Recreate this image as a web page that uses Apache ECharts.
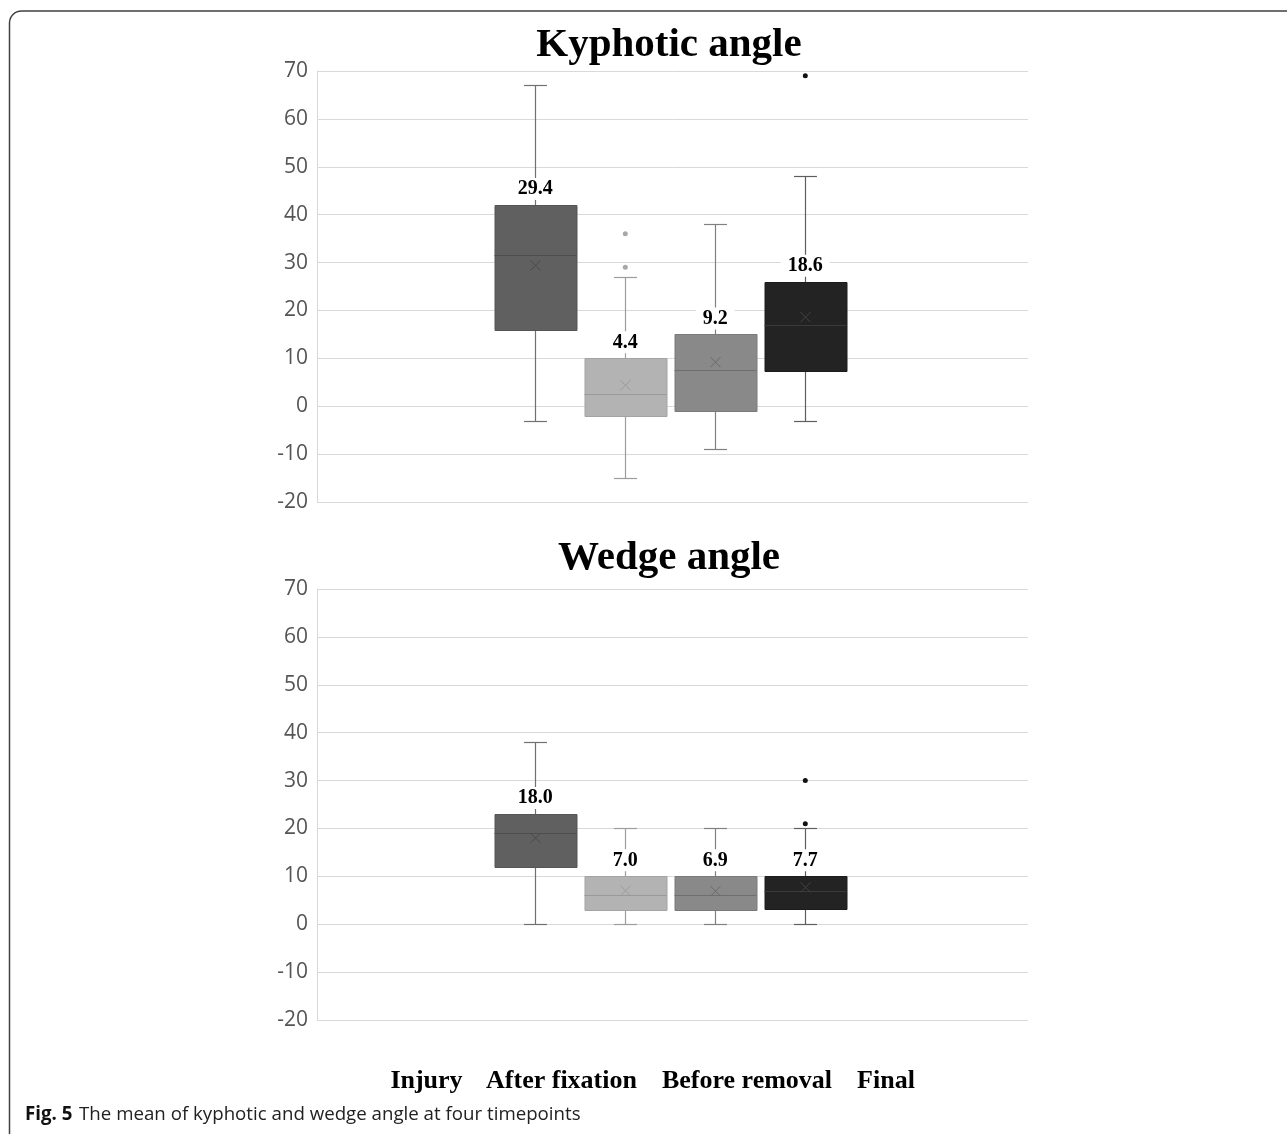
<!DOCTYPE html>
<html>
<head>
<meta charset="utf-8">
<script src="https://cdn.jsdelivr.net/npm/echarts@6/dist/echarts.min.js"></script>
<style>
html,body{margin:0;padding:0;background:#fff;}
#chart{width:1287px;height:1134px;}
</style>
</head>
<body>
<div id="chart"></div>
<script>
// ---------- data ----------
const categories = ['Injury', 'After fixation', 'Before removal', 'Final'];
const yTicks = [-20, -10, 0, 10, 20, 30, 40, 50, 60, 70];

// Kyphotic angle: [min, Q1, median, Q3, max]
const kyphoticMin    = [-3, -15, -9, -3];
const kyphoticQ1     = [16, -2, -1, 7.3];
const kyphoticMedian = [31.5, 2.5, 7.5, 17];
const kyphoticQ3     = [42, 10, 15, 26];
const kyphoticMax    = [67, 27, 38, 48];
const kyphoticMean   = [29.4, 4.4, 9.2, 18.6];
const kyphoticOutliers = [[1, 36], [1, 29], [3, 69]];

// Wedge angle
const wedgeMin    = [0, 0, 0, 0];
const wedgeQ1     = [12, 3, 3, 3.2];
const wedgeMedian = [19, 6, 6, 7];
const wedgeQ3     = [23, 10, 10, 10];
const wedgeMax    = [38, 20, 20, 20];
const wedgeMean   = [18.0, 7.0, 6.9, 7.7];
const wedgeOutliers = [[3, 30], [3, 21]];

// ---------- styles ----------
const boxFill     = ['#606060', '#b3b3b3', '#898989', '#232323'];
const boxBorder   = ['#555555', '#a3a3a3', '#7a7a7a', '#1c1c1c'];
const medianColor = ['#4e4e4e', '#999999', '#6e6e6e', '#3a3a3a'];
const whiskerColor= ['#707070', '#9d9d9d', '#808080', '#5e5e5e'];
const meanColor   = ['#4a4a4a', '#9a9a9a', '#6a6a6a', '#444444'];
const outlierColor= ['#606060', '#a8a8a8', '#888888', '#111111'];
const labelX = [426.5, 561.5, 747, 886];

function buildBoxData(mn, q1, md, q3, mx, mean) {
  return categories.map((c, i) => [i, mn[i], q1[i], md[i], q3[i], mx[i], mean[i]]);
}

function renderBox(params, api) {
  const i = api.value(0);
  const cx = Math.round(api.coord([i, 0])[0]) + 0.5;
  const band = api.size([1, 0])[0];
  const w = band * 0.91, cap = w * 0.28;
  const y = k => Math.round(api.coord([i, api.value(k)])[1]) + 0.5;
  const yMin = y(1), yQ1 = y(2), yMed = y(3), yQ3 = y(4), yMax = y(5), yMean = api.coord([i, api.value(6)])[1];
  const wc = whiskerColor[i];
  const ls = c => ({ stroke: c, lineWidth: 1.2 });
  const cs = 5;
  return {
    type: 'group',
    children: [
      { type: 'line', shape: { x1: cx, y1: yMax, x2: cx, y2: yQ3 }, style: ls(wc) },
      { type: 'line', shape: { x1: cx, y1: yQ1, x2: cx, y2: yMin }, style: ls(wc) },
      { type: 'line', shape: { x1: cx - cap / 2, y1: yMax, x2: cx + cap / 2, y2: yMax }, style: ls(wc) },
      { type: 'line', shape: { x1: cx - cap / 2, y1: yMin, x2: cx + cap / 2, y2: yMin }, style: ls(wc) },
      { type: 'rect', shape: { x: Math.round(cx - w / 2), y: yQ3, width: Math.round(w), height: yQ1 - yQ3 },
        style: { fill: boxFill[i], stroke: boxBorder[i], lineWidth: 1 } },
      { type: 'line', shape: { x1: cx - w / 2, y1: yMed, x2: cx + w / 2, y2: yMed }, style: ls(medianColor[i]) },
      { type: 'line', shape: { x1: cx - cs, y1: yMean - cs, x2: cx + cs, y2: yMean + cs }, style: { stroke: meanColor[i], lineWidth: 1 } },
      { type: 'line', shape: { x1: cx + cs, y1: yMean - cs, x2: cx - cs, y2: yMean + cs }, style: { stroke: meanColor[i], lineWidth: 1 } }
    ]
  };
}

const chart = echarts.init(document.getElementById('chart'), null, { renderer: 'canvas' });

const gridTop = [71, 589];
const gridH = 431;

const grids = [];
const xAxes = [];
const yAxes = [];
[0, 1].forEach(k => {
  grids.push({ left: 317, width: 711, top: gridTop[k], height: gridH, containLabel: false });
  grids.push({ left: 490.3, width: 360, top: gridTop[k], height: gridH, containLabel: false });
});
for (let g = 0; g < 4; g++) {
  const full = g % 2 === 0;
  xAxes.push({
    gridIndex: g, type: 'category', data: full ? [''] : categories, show: false,
    boundaryGap: true
  });
  yAxes.push({
    gridIndex: g, type: 'value', min: yTicks[0], max: yTicks[yTicks.length - 1], interval: 10,
    show: full,
    axisLine: { show: full, lineStyle: { color: '#d9d9d9', width: 1 } },
    axisTick: { show: false },
    axisLabel: { show: full, color: '#555555', fontSize: 21, fontFamily: 'Open Sans', margin: 9 },
    splitLine: { show: full, lineStyle: { color: '#d9d9d9', width: 1 } }
  });
}

function seriesFor(gridIdx, data, q3, mean, outliers) {
  return [
    {
      type: 'custom', xAxisIndex: gridIdx, yAxisIndex: gridIdx,
      renderItem: renderBox, data: data,
      encode: { x: 0, y: [1, 2, 3, 4, 5] }, z: 2, silent: true
    },
    {
      type: 'scatter', xAxisIndex: gridIdx, yAxisIndex: gridIdx,
      data: outliers.map(o => ({ value: o, itemStyle: { color: outlierColor[o[0]], opacity: 1 } })),
      itemStyle: { opacity: 1 },
      symbolSize: 5, z: 3, silent: true
    },
    {
      type: 'scatter', xAxisIndex: gridIdx, yAxisIndex: gridIdx,
      data: q3.map((v, i) => [i, v, mean[i]]),
      symbolSize: 0, z: 5, silent: true,
      itemStyle: { opacity: 1 },
      label: {
        show: true, position: 'top', distance: 5,
        formatter: p => p.data[2].toFixed(1),
        fontFamily: 'Liberation Serif, Times New Roman, serif', fontWeight: 'bold', fontSize: 20,
        color: '#000', opacity: 1, backgroundColor: '#fff', padding: [1, 7]
      }
    }
  ];
}

const kData = buildBoxData(kyphoticMin, kyphoticQ1, kyphoticMedian, kyphoticQ3, kyphoticMax, kyphoticMean);
const wData = buildBoxData(wedgeMin, wedgeQ1, wedgeMedian, wedgeQ3, wedgeMax, wedgeMean);

const serifBold = 'bold {s}px "Liberation Serif", "Times New Roman", serif';

const graphics = [
  { type: 'rect', shape: { x: 9.5, y: 11, width: 1290, height: 1135, r: 12 },
    style: { fill: 'none', stroke: '#404040', lineWidth: 1.5 }, z: 0, silent: true },
  { type: 'text', x: 669, y: 45.5, style: { text: 'Kyphotic angle', textAlign: 'center', textVerticalAlign: 'middle',
      font: serifBold.replace('{s}', 41), fill: '#000' } },
  { type: 'text', x: 669, y: 558.5, style: { text: 'Wedge angle', textAlign: 'center', textVerticalAlign: 'middle',
      font: serifBold.replace('{s}', 41), fill: '#000' } },
  { type: 'text', x: 25, y: 1115, style: {
      text: '{b|Fig. 5}  {r|The mean of kyphotic and wedge angle at four timepoints}',
      textVerticalAlign: 'middle',
      rich: {
        b: { fontFamily: 'Open Sans', fontWeight: 'bold', fontSize: 18.7, fill: '#111' },
        r: { fontFamily: 'Open Sans', fontSize: 18.7, fill: '#222' }
      } } }
];
categories.forEach((c, i) => {
  graphics.push({ type: 'text', x: labelX[i], y: 1081, style: { text: c, textAlign: 'center', textVerticalAlign: 'middle',
    font: serifBold.replace('{s}', 26), fill: '#000' } });
});

chart.setOption({
  backgroundColor: '#fff',
  animation: false,
  grid: grids,
  xAxis: xAxes,
  yAxis: yAxes,
  graphic: graphics,
  series: [].concat(
    seriesFor(1, kData, kyphoticQ3, kyphoticMean, kyphoticOutliers),
    seriesFor(3, wData, wedgeQ3, wedgeMean, wedgeOutliers)
  )
});
</script>
</body>
</html>
